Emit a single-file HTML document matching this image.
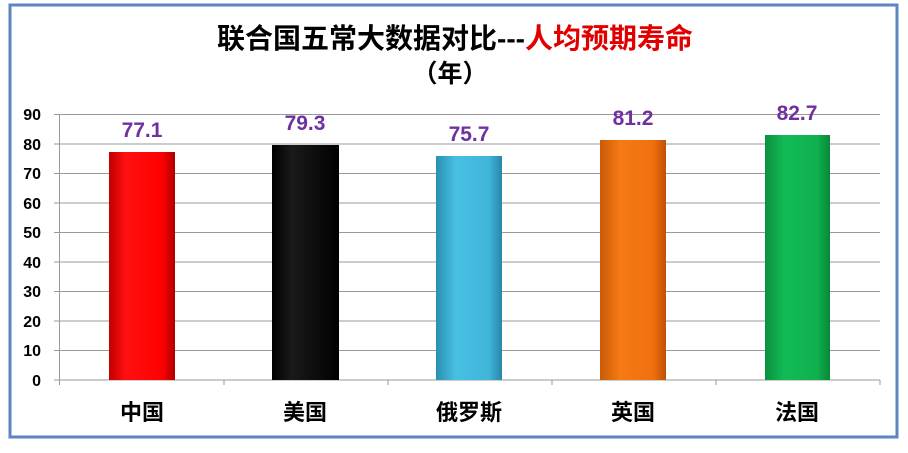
<!DOCTYPE html>
<html><head><meta charset="utf-8"><style>
body{margin:0;background:#fff;width:908px;height:448px;overflow:hidden}
</style></head><body>
<svg width="908" height="448" xmlns="http://www.w3.org/2000/svg" font-family="Liberation Sans, Noto Sans CJK SC, sans-serif">
<defs>
<linearGradient id="r" x1="0" x2="1"><stop offset="0" stop-color="#c00000"/><stop offset=".25" stop-color="#ff1010"/><stop offset=".8" stop-color="#ff0000"/><stop offset="1" stop-color="#b00000"/></linearGradient>
<linearGradient id="k" x1="0" x2="1"><stop offset="0" stop-color="#000"/><stop offset=".3" stop-color="#1a1a1a"/><stop offset="1" stop-color="#000"/></linearGradient>
<linearGradient id="b" x1="0" x2="1"><stop offset="0" stop-color="#2a8fb0"/><stop offset=".3" stop-color="#48c0e2"/><stop offset=".8" stop-color="#40b5da"/><stop offset="1" stop-color="#2a86a8"/></linearGradient>
<linearGradient id="o" x1="0" x2="1"><stop offset="0" stop-color="#c85a08"/><stop offset=".3" stop-color="#f57a14"/><stop offset=".8" stop-color="#f07010"/><stop offset="1" stop-color="#c05005"/></linearGradient>
<linearGradient id="g" x1="0" x2="1"><stop offset="0" stop-color="#0a9040"/><stop offset=".3" stop-color="#12bb55"/><stop offset=".8" stop-color="#10b050"/><stop offset="1" stop-color="#088838"/></linearGradient>
</defs>
<rect x="10" y="5" width="887" height="432" fill="#fff" stroke="#5b86c0" stroke-width="3"/>
<text x="455" y="48" text-anchor="middle" font-size="28" font-weight="bold" fill="#000">联合国五常大数据对比---<tspan fill="#e00000">人均预期寿命</tspan></text>
<text x="450" y="82" text-anchor="middle" font-size="25" font-weight="bold" fill="#000">（年）</text>
<g stroke="#999" stroke-width="1">
<line x1="54" y1="114.5" x2="880" y2="114.5"/><line x1="54" y1="144" x2="880" y2="144"/><line x1="54" y1="173.5" x2="880" y2="173.5"/><line x1="54" y1="203" x2="880" y2="203"/><line x1="54" y1="232.5" x2="880" y2="232.5"/><line x1="54" y1="262" x2="880" y2="262"/><line x1="54" y1="291.5" x2="880" y2="291.5"/><line x1="54" y1="321" x2="880" y2="321"/><line x1="54" y1="350.5" x2="880" y2="350.5"/><line x1="54" y1="380" x2="880" y2="380"/>
<line x1="59.5" y1="114" x2="59.5" y2="385"/>
<line x1="224" y1="380" x2="224" y2="385"/><line x1="388" y1="380" x2="388" y2="385"/><line x1="552" y1="380" x2="552" y2="385"/><line x1="716" y1="380" x2="716" y2="385"/><line x1="880" y1="380" x2="880" y2="385"/>
</g>
<g font-size="16" font-weight="bold" fill="#000" text-anchor="end">
<text x="41" y="120">90</text><text x="41" y="150">80</text><text x="41" y="179">70</text><text x="41" y="209">60</text><text x="41" y="238">50</text><text x="41" y="268">40</text><text x="41" y="297">30</text><text x="41" y="327">20</text><text x="41" y="356">10</text><text x="41" y="386">0</text>
</g>
<rect x="109" y="152" width="66" height="228" fill="url(#r)"/>
<rect x="272" y="145" width="67" height="235" fill="url(#k)"/>
<rect x="436" y="156" width="66" height="224" fill="url(#b)"/>
<rect x="600" y="140" width="66" height="240" fill="url(#o)"/>
<rect x="765" y="135" width="65" height="245" fill="url(#g)"/>
<g font-size="21" font-weight="bold" fill="#7030a0" text-anchor="middle">
<text x="142" y="137">77.1</text><text x="305" y="130">79.3</text><text x="469" y="141">75.7</text><text x="633" y="125">81.2</text><text x="797" y="120">82.7</text>
</g>
<g font-size="22" font-weight="bold" fill="#000" text-anchor="middle">
<text x="142" y="420">中国</text><text x="305" y="420">美国</text><text x="469" y="420">俄罗斯</text><text x="633" y="420">英国</text><text x="797" y="420">法国</text>
</g>
</svg>
</body></html>
